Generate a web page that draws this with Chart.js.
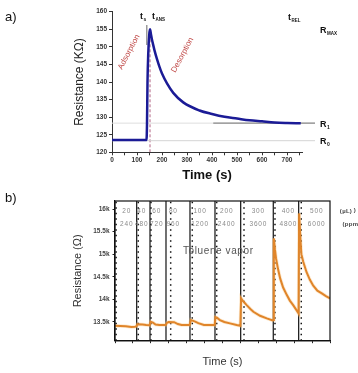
<!DOCTYPE html>
<html><head><meta charset="utf-8">
<script src="https://cdn.jsdelivr.net/npm/chart.js@4.4.1/dist/chart.umd.min.js"></script>
<style>
html,body{margin:0;padding:0;background:#fff;width:358px;height:373px;overflow:hidden;position:relative;font-family:"Liberation Sans",Arial,sans-serif;}
#wa{position:absolute;left:0;top:0;width:358px;height:190px;}
#wb{position:absolute;left:0;top:190px;width:358px;height:183px;}
.lbl{position:absolute;font-size:13px;line-height:15px;color:#111;z-index:2;}
</style></head><body>
<div id="wa"><canvas id="ca"></canvas></div>
<div id="wb"><canvas id="cb"></canvas></div>
<div class="lbl" style="left:5px;top:9px">a)</div>
<div class="lbl" style="left:5px;top:190px">b)</div>
<script>
const FAM = '"Liberation Sans", Arial, sans-serif';

// ---------- Chart a) data ----------
const timeA = [0, 60, 138, 140, 142, 145, 149, 152, 156, 160, 165, 170, 180, 190, 200, 220, 245, 285, 350, 400, 450, 500, 550, 600, 650, 700, 755];
const resA  = [123.5, 123.5, 123.5, 128, 140, 148, 153.5, 155, 153.5, 152, 150.5, 149, 146.5, 144.3, 142.4, 139.6, 136.9, 134.2, 131.9, 130.9, 130.1, 129.6, 129.1, 128.8, 128.5, 128.35, 128.25];
const r0A = 123.3;
const r1A = 128.3;
const tsA = 139;
const tAnsA = 152;
const r1SegStartA = 405;
const xTickLabelsA = [0, 100, 200, 300, 400, 500, 600, 700];
const yTickLabelsA = [120, 125, 130, 135, 140, 145, 150, 155, 160];

// ---------- Chart b) data ----------
const timeB = [260, 400, 550, 700, 800, 840, 860, 1000, 1100, 1190, 1220, 1280, 1350, 1450, 1620, 1660, 1700, 1850, 1950, 2050, 2265, 2300, 2400, 2500, 2650, 2940, 2960, 3000, 3080, 3200, 3350, 3530, 3630, 3650, 3700, 3800, 3900, 3980, 4160, 4340, 4500, 4520, 4530, 4560, 4590, 4640, 4700, 4780, 4880, 4960, 5050, 5130, 5195, 5210, 5240, 5270, 5320, 5410, 5500, 5590, 5700, 5820, 5930, 6040];
const resB  = [13410, 13405, 13400, 13385, 13390, 13400, 13445, 13440, 13430, 13425, 13500, 13480, 13440, 13427, 13427, 13480, 13495, 13492, 13450, 13427, 13427, 13540, 13510, 13470, 13430, 13427, 13604, 13590, 13538, 13495, 13465, 13427, 13410, 14019, 13960, 13870, 13785, 13722, 13633, 13575, 13531, 13540, 15350, 15100, 14900, 14680, 14463, 14260, 14092, 13970, 13870, 13770, 13686, 15905, 15400, 15000, 14830, 14600, 14430, 14300, 14190, 14130, 14070, 14019];
const solidLinesB = [843, 1201, 1631, 2276, 2948, 3639, 4515, 5198];
const dottedLinesB = [290, 886, 1228, 1757, 2338, 2994, 3728, 4561, 5268];
const xTickLabelsB = [1000, 2000, 3000, 4000, 5000, 6000];
const yTickValsB = [13500, 14000, 14500, 15000, 15500, 16000];
const yTickLabelsB = ['13.5k', '14k', '14.5k', '15k', '15.5k', '16k'];
const ulLabelsB = ['20', '40', '60', '80', '100', '200', '300', '400', '500'];
const ppmLabelsB = ['240', '480', '720', '960', '1200', '2400', '3600', '4800', '6000'];
const yMinB = 13080, yMaxB = 16180;

// ---------- helpers ----------
function subText(ctx, main, sub, x, y, size, subSize) {
  ctx.save();
  ctx.fillStyle = '#111'; ctx.textAlign = 'left'; ctx.textBaseline = 'alphabetic';
  ctx.font = 'bold ' + size + 'px ' + FAM;
  ctx.fillText(main, x, y);
  const w = ctx.measureText(main).width;
  ctx.font = 'bold ' + subSize + 'px ' + FAM;
  ctx.fillText(sub, x + w + 0.5, y + 2);
  ctx.restore();
}
function rotText(ctx, txt, cx, cy, deg, size, color) {
  ctx.save();
  ctx.translate(cx, cy); ctx.rotate(deg * Math.PI / 180);
  ctx.fillStyle = color; ctx.textAlign = 'center'; ctx.textBaseline = 'middle';
  ctx.font = size + 'px ' + FAM;
  ctx.fillText(txt, 0, 0);
  ctx.restore();
}

const annotA = {
  id: 'annotA',
  afterDatasetsDraw(chart) {
    const ctx = chart.ctx;
    subText(ctx, 't', 's', 140, 19.3, 9, 5);
    subText(ctx, 't', 'ANS', 152, 19.3, 9, 4.5);
    subText(ctx, 't', 'REL', 288, 19.5, 9, 4.5);
    subText(ctx, 'R', 'MAX', 320, 33, 9, 4.5);
    subText(ctx, 'R', '1', 320, 127, 9, 5);
    subText(ctx, 'R', '0', 320, 144, 9, 5);
    rotText(ctx, 'Adsorption', 129, 52, -62, 8, '#c04a48');
    rotText(ctx, 'Desorption', 182.5, 55, -62, 8, '#c04a48');
  }
};

const annotB = {
  id: 'annotB',
  afterDatasetsDraw(chart) {
    const ctx = chart.ctx;
    const a = chart.chartArea;
    ctx.save();
    ctx.strokeStyle = '#111'; ctx.lineWidth = 1.2;
    ctx.strokeRect(a.left, a.top, a.right - a.left, a.bottom - a.top);
    const xs = [126.7, 141.7, 156.7, 173.3, 200, 226.7, 258.3, 288.3, 316.7];
    ctx.fillStyle = '#8a8a8a'; ctx.textAlign = 'center'; ctx.textBaseline = 'middle';
    ctx.font = '6.5px ' + FAM;
    try { ctx.letterSpacing = '0.8px'; } catch (e) {}
    ulLabelsB.forEach((t, i) => ctx.fillText(t, xs[i], 21));
    ppmLabelsB.forEach((t, i) => ctx.fillText(t, xs[i], 34));
    ctx.fillStyle = '#444';
    ctx.font = 'bold 6px ' + FAM;
    try { ctx.letterSpacing = '0.3px'; } catch (e) {}
    ctx.fillText('(µL)', 346, 21);
    ctx.fillText(')', 355, 20);
    ctx.textAlign = 'left';
    ctx.fillText('(ppm', 342.5, 34);
    ctx.fillStyle = '#555';
    ctx.textAlign = 'center';
    ctx.font = '10px ' + FAM;
    try { ctx.letterSpacing = '0.6px'; } catch (e) {}
    ctx.fillText('Toluene vapor', 218.3, 61.7);
    ctx.restore();
  }
};

const tickFont = { size: 6.5, weight: 'bold', family: FAM };

// ---------- Chart a) ----------
new Chart(document.getElementById('ca'), {
  type: 'line',
  data: {
    datasets: [
      { data: timeA.map((t, i) => ({ x: t, y: resA[i] })), borderColor: '#1b1b96', borderWidth: 2.5, pointRadius: 0, cubicInterpolationMode: 'monotone' },
      { data: [{ x: r1SegStartA, y: r1A }, { x: 812, y: r1A }], borderColor: '#8a8a8a', borderWidth: 1.3, pointRadius: 0, clip: false },
      { data: [{ x: 0, y: r1A }, { x: 812, y: r1A }], borderColor: '#dedede', borderWidth: 1, pointRadius: 0, clip: false },
      { data: [{ x: 0, y: r0A }, { x: 812, y: r0A }], borderColor: '#d4d4d4', borderWidth: 1, pointRadius: 0, clip: false },
      { data: [{ x: tsA, y: 150.5 }, { x: tsA, y: 156.2 }], borderColor: '#9a9a9a', borderWidth: 1.5, pointRadius: 0 },
      { data: [{ x: tAnsA, y: 120 }, { x: tAnsA, y: 155 }], borderColor: '#b06080', borderWidth: 1, borderDash: [3, 2], pointRadius: 0 }
    ]
  },
  options: {
    responsive: true, maintainAspectRatio: false, animation: false, devicePixelRatio: 1, events: [],
    layout: { padding: { left: 68, top: 11.7, right: 56, bottom: 3 } },
    plugins: { legend: { display: false }, tooltip: { enabled: false } },
    scales: {
      x: {
        type: 'linear', min: 0, max: 760,
        afterFit: s => { s.height = 34.7; },
        ticks: { stepSize: 50, includeBounds: false, autoSkip: false, maxRotation: 0, padding: 1, font: tickFont, color: '#333',
          callback: v => xTickLabelsA.includes(v) ? String(v) : '' },
        grid: { drawOnChartArea: false, drawTicks: true, tickLength: 3, color: '#333' },
        border: { display: true, color: '#333', width: 1 },
        title: { display: true, text: 'Time (s)', color: '#111', font: { size: 13, weight: 'bold', family: FAM }, padding: { top: 0, bottom: 4 } }
      },
      y: {
        type: 'linear', min: 120, max: 160,
        afterFit: s => { s.width = 44; },
        ticks: { stepSize: 5, padding: 2, font: tickFont, color: '#333',
          callback: v => yTickLabelsA.includes(v) ? String(v) : '' },
        grid: { drawOnChartArea: false, drawTicks: true, tickLength: 3, color: '#333' },
        border: { display: true, color: '#333', width: 1 },
        title: { display: true, text: 'Resistance (KΩ)', color: '#222', font: { size: 12, family: FAM }, padding: { top: 4, bottom: 0 } }
      }
    }
  },
  plugins: [annotA]
});

// ---------- Chart b) ----------
const curveB = timeB.map((t, i) => ({ x: t, y: resB[i] }));
const dsB = [
  { data: curveB, borderColor: '#e0852a', borderWidth: 2, pointRadius: 0 },
  { data: curveB, borderColor: 'rgba(250,195,120,0.35)', borderWidth: 3.6, pointRadius: 0 }
];
solidLinesB.forEach(t => dsB.push({ data: [{ x: t, y: yMinB }, { x: t, y: yMaxB }], borderColor: '#111', borderWidth: 1.2, pointRadius: 0 }));
dottedLinesB.forEach(t => dsB.push({ data: [{ x: t, y: yMinB }, { x: t, y: yMaxB }], borderColor: '#111', borderWidth: 1.5, borderDash: [1.5, 4], pointRadius: 0 }));

new Chart(document.getElementById('cb'), {
  type: 'line',
  data: { datasets: dsB },
  options: {
    responsive: true, maintainAspectRatio: false, animation: false, devicePixelRatio: 1, events: [],
    layout: { padding: { left: 67.4, top: 11, right: 28, bottom: 0 } },
    plugins: { legend: { display: false }, tooltip: { enabled: false } },
    scales: {
      x: {
        type: 'linear', min: 260, max: 6040,
        afterFit: s => { s.height = 32.3; },
        ticks: { stepSize: 500, includeBounds: false, autoSkip: false, maxRotation: 0, padding: 2, font: tickFont, color: '#444',
          callback: v => xTickLabelsB.includes(v) ? String(v) : '' },
        grid: { drawOnChartArea: false, drawTicks: true, tickLength: 2.5, color: '#222' },
        border: { display: true, color: '#111', width: 1.2 },
        title: { display: true, text: 'Time (s)', color: '#333', font: { size: 11, family: FAM }, padding: { top: 0, bottom: 4 } }
      },
      y: {
        type: 'linear', min: yMinB, max: yMaxB,
        afterFit: s => { s.width = 47.6; },
        afterBuildTicks: s => { s.ticks = yTickValsB.map(v => ({ value: v })); },
        ticks: { padding: 3, font: tickFont, color: '#444',
          callback: v => { const i = yTickValsB.indexOf(v); return i >= 0 ? yTickLabelsB[i] : ''; } },
        grid: { drawOnChartArea: false, drawTicks: true, tickLength: 2.5, color: '#222' },
        border: { display: true, color: '#111', width: 1.2 },
        title: { display: true, text: 'Resistance (Ω)', color: '#333', font: { size: 11, family: FAM }, padding: { top: 4, bottom: 0 } }
      }
    }
  },
  plugins: [annotB]
});
</script>
</body></html>
